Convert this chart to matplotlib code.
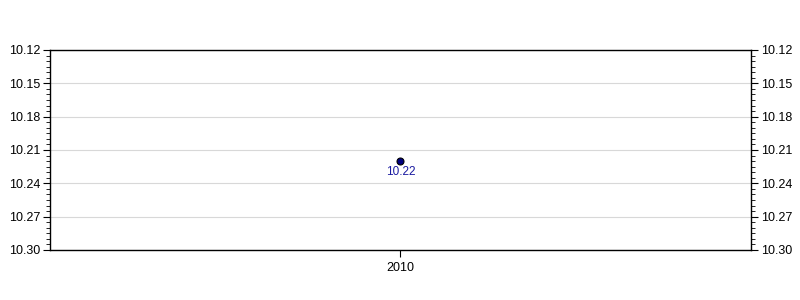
import matplotlib.pyplot as plt
from matplotlib.ticker import MultipleLocator

years = [2010]
values = [10.22]
y_ticks = [10.12, 10.15, 10.18, 10.21, 10.24, 10.27, 10.30]

plt.rcParams['font.family'] = ['Liberation Sans', 'DejaVu Sans']
plt.rcParams['font.size'] = 9

fig = plt.figure(figsize=(8, 3), dpi=100)
ax = fig.add_axes([0.0625, 0.1667, 0.8762, 0.6667])

ax.plot(years, values, 'o', color='#000080', markeredgecolor='black',
        markersize=5, markeredgewidth=0.8, zorder=3)
for x, v in zip(years, values):
    ax.annotate(f'{v:.2f}', (x, v), xytext=(0, -3.5), textcoords='offset points',
                ha='center', va='top', color='#1a1aa0', fontsize=8.5)

ax.set_xlim(years[0] - 1, years[0] + 1)
ax.set_xticks(years)
ax.set_xticklabels([str(y) for y in years])

ax.set_ylim(y_ticks[-1], y_ticks[0])
ax.set_yticks(y_ticks)
ax.set_yticklabels([f'{t:.2f}' for t in y_ticks])
ax.yaxis.set_minor_locator(MultipleLocator(0.005))
ax.tick_params(axis='y', which='both', left=True, right=True,
               labelleft=True, labelright=True, direction='out')
ax.tick_params(axis='y', which='major', length=5, pad=2)
ax.tick_params(axis='y', which='minor', length=3)
ax.tick_params(axis='x', length=5, direction='out')
ax.grid(axis='y', color='#d8d8d8', linewidth=0.8)
ax.set_axisbelow(True)
for s in ax.spines.values():
    s.set_linewidth(1)

fig.savefig('out.png', dpi=100)
